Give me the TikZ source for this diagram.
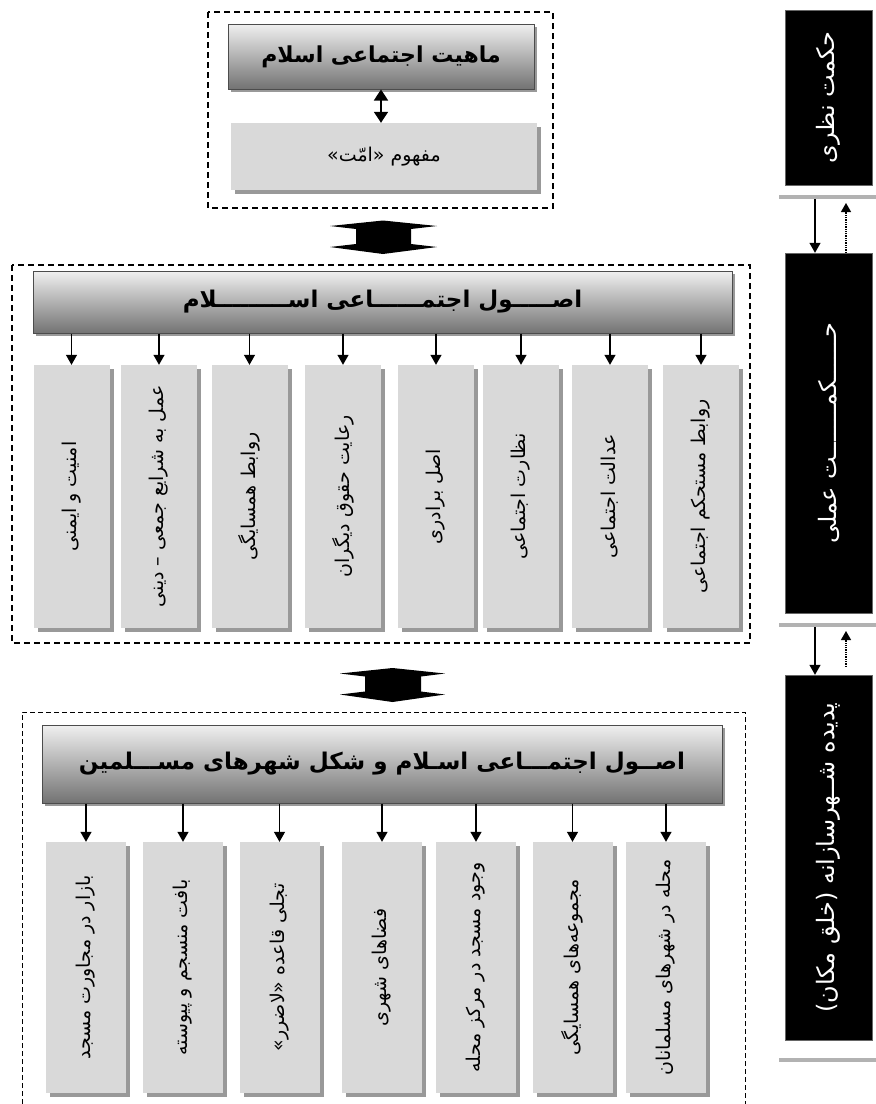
\documentclass[tikz,border=0pt]{standalone}
\usepackage{fontspec}
\usepackage{graphicx}
\usetikzlibrary{arrows.meta,shadows,calc}
\newfontfamily\fa[Script=Arabic]{DejaVu Sans}
\TeXXeTstate=1
\newcommand{\rtl}[1]{\beginR #1\endR}
\newcommand{\vtext}[1]{\rotatebox{90}{\beginR #1\endR}}
\begin{document}
\begin{tikzpicture}[x=1pt,y=-1pt,
  hdr/.style={draw=black!70, line width=1pt, top color=black!6, bottom color=black!55,
    drop shadow={shadow xshift=3pt, shadow yshift=-3pt, fill=black!40, opacity=1},
    inner sep=0pt, font=\fa\bfseries\fontsize{23}{27}\selectfont},
  lbox/.style={fill=black!15, inner sep=0pt,
    drop shadow={shadow xshift=4pt, shadow yshift=-4pt, fill=black!40, opacity=1},
    font=\fa\fontsize{19}{22}\selectfont},
  colbox/.style={lbox, minimum width=76pt, font=\fa\fontsize{19}{22}\selectfont},
  rbox/.style={fill=black, draw=black!60, minimum width=87pt, inner sep=0pt,
    text=white, font=\fa\fontsize{24}{28}\selectfont},
  barfill/.style={fill=black!30},
  arr/.style={-{Triangle[width=11pt,length=10pt]}, line width=1.3pt},
  dbl/.style={{Triangle[width=14pt,length=11pt]}-{Triangle[width=14pt,length=11pt]}, line width=1.8pt},
  dotarr/.style={-{Triangle[width=10pt,length=9pt]}, line width=1.3pt, densely dotted},
  dashA/.style={dash pattern=on 6pt off 4pt, line width=1.3pt},
  dashB/.style={dash pattern=on 5pt off 3pt, line width=0.8pt},
  fat/.style={fill=black}]
\useasboundingbox (0,0) rectangle (876,1104);
\clip (0,0) rectangle (876,1104);

% ---------- top section ----------
\draw[dashA] (208,12) rectangle (553,208);
\node[hdr, minimum width=306pt, minimum height=65pt, font=\fa\bfseries\fontsize{22}{26}\selectfont] (h1) at (381,56.5) {\rtl{ماهیت اجتماعی اسلام}};
\node[lbox, minimum width=306pt, minimum height=67pt] (b1) at (384,156.5) {\rtl{مفهوم «امّت»}};
\draw[dbl] (h1.south) -- (h1.south |- b1.north);

% fat arrow 1
\fill[fat] (330,226) -- (383,220.5) -- (437,226) -- (411,229) -- (411,244) -- (437,247)
  -- (383,254) -- (330,247) -- (356,244) -- (356,229) -- cycle;

% ---------- middle section ----------
\draw[dashA] (12,265) rectangle (750,643);
\node[hdr, minimum width=699pt, minimum height=62pt] (h2) at (382.5,302) {\rtl{اصـــــول اجتمــــــاعی اســـــــــلام}};
\foreach \i/\x/\t in {1/71.5/{امنیت و ایمنی},
                      2/159/{عمل به شرایع جمعی – دینی},
                      3/249.5/{روابط همسایگی},
                      4/343/{رعایت حقوق دیگران},
                      5/436/{اصل برادری},
                      6/521/{نظارت اجتماعی},
                      7/610/{عدالت اجتماعی},
                      8/701/{روابط مستحکم اجتماعی}}{
  \node[colbox, minimum height=263pt] (m\i) at (\x,496.5) {\vtext{\t}};
  \draw[arr] (m\i.north |- h2.south) -- (m\i.north);
}

% fat arrow 2
\fill[fat] (340,673.5) -- (392.5,668) -- (445,673.5) -- (421,676.5) -- (421,691.5) -- (445,694.5)
  -- (392.5,702) -- (340,694.5) -- (365,691.5) -- (365,676.5) -- cycle;

% ---------- bottom section ----------
\draw[dashB] (22,1120) -- (22,712) -- (745,712) -- (745,1120);
\node[hdr, minimum width=680pt, minimum height=78pt] (h3) at (382,764) {\rtl{اصــول اجتمـــاعی اسـلام و شکل شهرهای مســـلمین}};
\foreach \i/\x/\t in {1/86/{بازار در مجاورت مسجد},
                      2/183/{بافت منسجم و پیوسته},
                      3/279.5/{تجلی قاعده «لاضرر»},
                      4/382/{فضاهای شهری},
                      5/476/{وجود مسجد در مرکز محله},
                      6/572.5/{مجموعه‌های همسایگی},
                      7/666/{محله در شهرهای مسلمانان}}{
  \node[colbox, minimum width=80pt, minimum height=251pt] (n\i) at (\x,967.5) {\vtext{\t}};
  \draw[arr] (n\i.north |- h3.south) -- (n\i.north);
}

% ---------- right side ----------
\node[rbox, minimum height=175pt] (r1) at (828.5,97.5) {\vtext{حکمت نظری}};
\node[rbox, minimum height=360pt] (r2) at (828.5,433) {\vtext{حــــــکمـــــــت عملی}};
\node[rbox, minimum height=365pt] (r3) at (828.5,857.5) {\vtext{پدیده شــهرسازانه (خلق مکان)}};
\fill[barfill] (779,195) rectangle (876,199);
\fill[barfill] (779,623) rectangle (876,627);
\fill[barfill] (779,1058) rectangle (876,1062);
\coordinate (bar1) at (827.5,199);
\coordinate (bar2) at (827.5,627);

\coordinate (d1) at ([xshift=-13.5pt]r2.north);
\coordinate (u1) at ([xshift=17.5pt]r2.north);
\coordinate (d2) at ([xshift=-13.5pt]r3.north);
\coordinate (u2) at ([xshift=17.5pt]r3.north);
\draw[arr] (d1 |- bar1) -- (d1);
\draw[dotarr] (u1) -- ([yshift=-4pt]u1 |- bar1);
\draw[arr] (d2 |- bar2) -- (d2);
\draw[dotarr] ([yshift=8pt]u2) -- ([yshift=-4pt]u2 |- bar2);
\end{tikzpicture}
\end{document}
